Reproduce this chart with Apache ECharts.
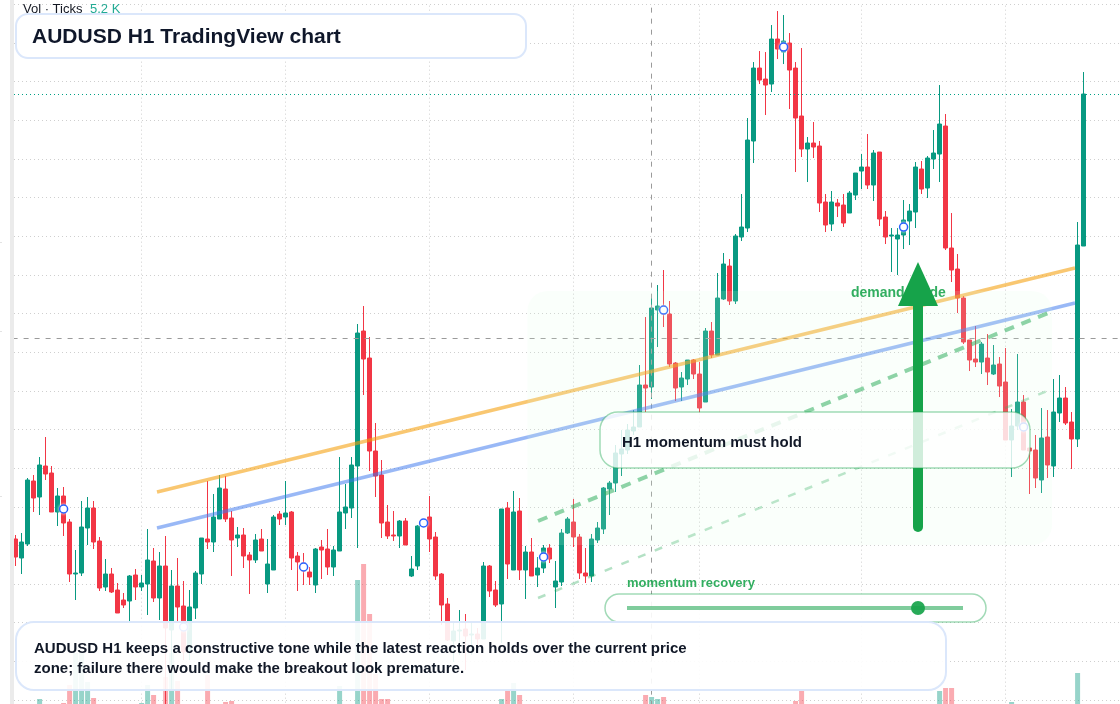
<!DOCTYPE html>
<html><head><meta charset="utf-8">
<style>html,body{margin:0;padding:0;background:#fff;overflow:hidden;width:1120px;height:704px}#w{width:1120px;height:704px;overflow:hidden;position:relative}#c{width:1130px;height:760px}</style>
<script src="https://cdn.jsdelivr.net/npm/echarts@6/dist/echarts.min.js"></script>
</head><body><div id="w"><div id="c"></div></div>
<script>
// AUDUSD H1, prices in pips (6461 = 0.6461)
const opens=[6461,6442,6456,6519,6503,6534,6527,6488,6504,6478,6426,6427,6472,6492,6459,6413,6426,6410,6400,6399,6425,6413,6416,6439,6402,6434,6370,6414,6394,6348,6392,6426,6461,6458,6481,6511,6482,6462,6465,6445,6440,6461,6416,6430,6486,6483,6488,6444,6437,6428,6415,6453,6451,6433,6449,6487,6492,6534,6669,6642,6549,6525,6478,6465,6464,6479,6424,6434,6475,6483,6463,6426,6396,6359,6369,6371,6365,6366,6361,6434,6410,6396,6492,6430,6489,6430,6448,6425,6432,6452,6413,6418,6467,6478,6463,6427,6424,6460,6471,6511,6517,6546,6550,6569,6573,6615,6613,6690,6694,6686,6637,6613,6621,6640,6626,6598,6669,6645,6701,6734,6699,6763,6772,6859,6932,6921,6916,6961,6948,6957,6932,6884,6851,6857,6854,6798,6776,6797,6795,6787,6805,6829,6833,6815,6848,6783,6764,6761,6765,6779,6788,6831,6812,6841,6846,6874,6752,6731,6702,6660,6641,6638,6642,6626,6636,6618,6560,6574,6598,6552,6550,6520,6563,6534,6587,6602,6578,6561,6754];
const closes=[6443,6458,6520,6502,6535,6526,6488,6504,6477,6426,6427,6473,6492,6458,6412,6426,6408,6387,6395,6424,6413,6417,6440,6402,6434,6372,6414,6393,6348,6393,6427,6462,6458,6483,6512,6481,6460,6465,6444,6440,6460,6449,6436,6483,6481,6487,6442,6438,6429,6423,6451,6450,6433,6450,6488,6493,6535,6667,6641,6549,6524,6477,6464,6464,6479,6455,6431,6474,6479,6461,6424,6395,6360,6369,6370,6364,6366,6361,6434,6409,6395,6491,6436,6488,6430,6448,6424,6432,6452,6441,6419,6467,6481,6463,6427,6424,6461,6472,6512,6517,6547,6551,6570,6573,6615,6612,6692,6694,6686,6636,6612,6622,6640,6626,6592,6669,6645,6702,6736,6699,6764,6773,6860,6932,6920,6915,6961,6951,6959,6930,6882,6851,6857,6853,6797,6775,6798,6794,6777,6807,6827,6833,6815,6847,6781,6763,6765,6765,6780,6789,6833,6811,6842,6847,6876,6752,6730,6702,6658,6640,6638,6656,6628,6635,6614,6560,6574,6598,6550,6549,6522,6562,6535,6588,6602,6577,6561,6755,6906];
const lows=[6434,6426,6454,6488,6485,6520,6488,6474,6464,6418,6400,6424,6455,6451,6409,6409,6407,6387,6392,6378,6400,6409,6385,6398,6380,6294,6310,6379,6340,6340,6381,6416,6451,6448,6481,6478,6424,6453,6432,6406,6437,6449,6407,6430,6475,6475,6430,6409,6415,6415,6407,6421,6425,6424,6449,6471,6482,6452,6605,6529,6503,6462,6461,6459,6452,6455,6423,6430,6474,6448,6420,6375,6359,6338,6345,6330,6345,6350,6361,6403,6393,6357,6421,6430,6420,6401,6424,6413,6427,6437,6392,6414,6466,6453,6421,6417,6418,6457,6466,6485,6508,6524,6546,6565,6573,6588,6601,6653,6673,6633,6599,6599,6615,6621,6587,6598,6642,6645,6700,6695,6696,6759,6768,6837,6916,6885,6908,6941,6936,6891,6828,6843,6818,6842,6788,6768,6769,6783,6773,6787,6800,6811,6811,6799,6774,6756,6728,6725,6751,6755,6772,6806,6802,6831,6818,6750,6718,6687,6656,6629,6633,6626,6615,6625,6603,6560,6523,6570,6550,6506,6512,6507,6522,6523,6578,6575,6531,6553,6754];
const highs=[6465,6467,6522,6525,6543,6563,6534,6512,6513,6481,6450,6499,6503,6499,6463,6441,6432,6417,6407,6425,6431,6425,6471,6452,6448,6464,6430,6442,6419,6410,6429,6462,6519,6506,6525,6524,6489,6473,6472,6448,6466,6471,6461,6485,6489,6519,6489,6448,6447,6433,6452,6460,6471,6454,6543,6516,6543,6676,6694,6663,6577,6540,6495,6489,6480,6482,6444,6475,6480,6504,6468,6427,6402,6377,6390,6386,6379,6372,6438,6435,6419,6491,6498,6509,6502,6454,6462,6443,6455,6456,6439,6471,6483,6501,6466,6452,6466,6478,6513,6519,6555,6570,6576,6590,6635,6683,6706,6715,6730,6699,6638,6628,6640,6641,6638,6672,6678,6727,6747,6741,6766,6806,6882,6938,6949,6948,6975,6989,6985,6967,6938,6952,6863,6878,6859,6806,6809,6801,6806,6809,6827,6846,6866,6850,6848,6789,6772,6772,6800,6796,6838,6839,6844,6870,6915,6886,6787,6746,6704,6660,6674,6658,6666,6655,6643,6652,6591,6646,6605,6552,6565,6592,6590,6621,6625,6613,6588,6778,6928];
// tick volume in thousands; bars too small to be seen in the visible pane are left empty
const volumeByBar={4:6.15,8:5.55,9:8.25,10:13.05,11:13.05,12:8.7,13:6.3,21:5.55,22:8.25,23:6.75,25:9.45,26:13.05,27:8.85,32:9.75,35:5.7,36:5.85,54:8.1,57:24,58:26.4,59:18.9,60:9.9,61:6.15,62:6.15,81:6.15,82:7.5,83:8.55,84:6.75,105:6.75,106:6.45,107:6.15,108:6.45,130:5.85,131:7.35,154:7.35,155:7.8,156:7.8,166:5.7,177:10.05,178:5.2};
const sessionBars=[21,45,69,93,114,141,165];
const markerBars=[8,28,48,68,88,108,128,148,168];
const markerPrices=[6491,6373,6433,6477,6443,6690,6953,6773,6573];
const orangeTrend=[[23.57,6508],[176.57,6732]];
const blueTrend=[[23.57,6472],[176.57,6697]];
const greenDash=[[87.07,6479],[172.07,6687]];
const lightDash=[[87.07,6402],[172.73,6611]];
const crossBar=106, crossPrice=6662, lastPrice=6905.5;
const arrowStem=[[150.4,6473],[150.4,6700]];
const arrowTip=[[150.4,6716]];

const GREEN='#089981', RED='#f23645', FONT='"Liberation Sans",Arial,sans-serif';
const N=opens.length, SLOTS=185, STEP=6300/163;
const cats=Array.from({length:SLOTS},(_,i)=>String(i));
const candles=opens.map((o,i)=>[o,closes[i],lows[i],highs[i]]);
const volumes=opens.map((o,i)=>{
  const v=volumeByBar[i];
  return v==null?null:{value:v,itemStyle:{color:closes[i]>=o?'rgba(8,153,129,0.42)':'rgba(242,54,69,0.42)'}};
});
const L=12.6,W=6*SLOTS;
const overlayLine=(data,color,width,type,opacity,z,extra)=>Object.assign({type:'line',xAxisIndex:1,yAxisIndex:0,data,symbol:'none',silent:true,z,
  lineStyle:{color,width,type,opacity,cap:'butt'}},extra||{});
const box=(x,y,w,h,r,fill,stroke,lw,z)=>({type:'rect',silent:true,z,shape:{x,y,width:w,height:h,r},style:{fill,stroke,lineWidth:lw}});
const txt=(x,y,text,font,fill,z,opacity)=>({type:'text',silent:true,z,x,y,style:{text,font,fill,opacity:opacity==null?1:opacity,verticalAlign:'middle',align:'left'}});
const boxBlue='#dbe7fb', boxGreen='rgba(22,163,74,0.4)';
const tinyTick=y=>({type:'rect',silent:true,z:6,shape:{x:0,y,width:2,height:1},style:{fill:'#e3e3e3'}});

const option={
  animation:false,
  backgroundColor:'#ffffff',
  title:{text:'AUDUSD H1 TradingView chart',left:32,top:25,z:20,itemGap:0,padding:0,
    textStyle:{fontFamily:FONT,fontSize:21,fontWeight:'bold',color:'#0f172a',lineHeight:24}},
  grid:[{left:L,width:W,top:4.33,height:734.32},{left:L,width:W,top:540,height:200}],
  xAxis:[
    {type:'category',gridIndex:0,data:cats,boundaryGap:true,axisLine:{show:false},axisTick:{show:false},axisLabel:{show:false},splitLine:{show:false}},
    {type:'value',gridIndex:0,min:-0.5,max:SLOTS-0.5,show:false,splitLine:{show:false}},
    {type:'category',gridIndex:1,data:cats,boundaryGap:true,axisLine:{show:false},axisTick:{show:false},axisLabel:{show:false},splitLine:{show:false}}
  ],
  yAxis:[
    {type:'value',gridIndex:0,min:162*STEP,max:181*STEP,interval:STEP,axisLine:{show:false},axisTick:{show:false},axisLabel:{show:false},
      splitLine:{show:true,lineStyle:{color:'#cfcfcf',width:1,type:[1,3],dashOffset:2.6}}},
    {type:'value',gridIndex:1,min:0,max:30,axisLine:{show:false},axisTick:{show:false},axisLabel:{show:false},splitLine:{show:false}}
  ],
  series:[
    {type:'line',xAxisIndex:1,yAxisIndex:0,data:[],silent:true,z:1,symbol:'none',
      markLine:{silent:true,symbol:'none',animation:false,label:{show:false},z:1,
        lineStyle:{color:'#cfcfcf',width:1,type:[1,3]},data:sessionBars.map(b=>({xAxis:b}))}},
    {type:'bar',xAxisIndex:2,yAxisIndex:1,data:volumes,barWidth:5,silent:true,z:2},
    {type:'candlestick',xAxisIndex:0,yAxisIndex:0,data:candles,barWidth:5,silent:true,z:2,
      itemStyle:{color:GREEN,color0:RED,borderColor:GREEN,borderColor0:RED,borderWidth:1}},
    {type:'line',xAxisIndex:1,yAxisIndex:0,data:[],silent:true,z:3,symbol:'none',
      markLine:{silent:true,symbol:'none',animation:false,label:{show:false},z:3,data:[
        {xAxis:crossBar,lineStyle:{color:'#9a9a9a',width:1,type:[5,6]}},
        {yAxis:crossPrice,lineStyle:{color:'#9a9a9a',width:1,type:[5,6]}},
        {yAxis:lastPrice,lineStyle:{color:'#00a085',width:1,type:[1,3],dashOffset:2.6}}
      ]}},
    overlayLine(orangeTrend,'#f59e0b',3.5,'solid',0.58,3),
    overlayLine(blueTrend,'#3b76ee',3.5,'solid',0.52,3),
    overlayLine(greenDash,'#16a34a',4,[10,8],0.55,3),
    overlayLine(lightDash,'#16a34a',2.5,[8,10],0.32,3),
    {type:'scatter',xAxisIndex:1,yAxisIndex:0,data:markerBars.map((b,i)=>[b,markerPrices[i]]),symbol:'circle',symbolSize:8,silent:true,z:3,
      itemStyle:{color:'#ffffff',opacity:1,borderColor:'#2962ff',borderWidth:1.5,shadowColor:'rgba(255,255,255,0.9)',shadowBlur:3}},
    overlayLine(arrowStem,'#16a34a',10,'solid',1,6,{lineStyle:{color:'#16a34a',width:10,cap:'round'}}),
    {type:'scatter',xAxisIndex:1,yAxisIndex:0,data:arrowTip,symbol:'triangle',symbolSize:[40,44],silent:true,z:6,itemStyle:{color:'#16a34a',opacity:1}}
  ],
  graphic:{elements:[
    {type:'rect',silent:true,z:5,shape:{x:10,y:0,width:4,height:704},style:{fill:'#ebebeb'}},
    {type:'rect',silent:true,z:5,shape:{x:0,y:0,width:10,height:704},style:{fill:'#ffffff'}},
    tinyTick(242),tinyTick(331),tinyTick(496),
    box(527.5,291,524.5,254,20,'rgba(220,252,231,0.15)',null,0,4),
    txt(851,293,'demand guide','bold 14px '+FONT,'#16a34a',5,0.88),
    box(600,412,430,56,18,'rgba(255,255,255,0.8)',boxGreen,1.5,7),
    txt(622,442.5,'H1 momentum must hold','bold 15px '+FONT,'#111827',8),
    txt(627,583,'momentum recovery','bold 13px '+FONT,'#16a34a',8,0.88),
    box(605,594,381,28,14,'rgba(255,255,255,0.9)',boxGreen,1.5,8),
    {type:'rect',silent:true,z:8,shape:{x:627,y:606,width:336,height:4},style:{fill:'rgba(22,163,74,0.55)'}},
    {type:'circle',silent:true,z:8,shape:{cx:918,cy:608,r:7},style:{fill:'#16a34a',opacity:0.92}},
    box(16,622,930,68,18,'rgba(255,255,255,0.9)',boxBlue,2,9),
    txt(34,648.5,'AUDUSD H1 keeps a constructive tone while the latest reaction holds over the current price','bold 15px '+FONT,'#111827',10),
    txt(34,668.5,'zone; failure there would make the breakout look premature.','bold 15px '+FONT,'#111827',10),
    txt(23,9.5,'Vol · Ticks','13px '+FONT,'#131722',3),
    txt(90,9.5,'5.2 K','13px '+FONT,'#22ab94',3),
    box(16,14,510,44,12,'#ffffff',boxBlue,2,9)
  ]}
};
const chart=echarts.init(document.getElementById('c'),null,{renderer:'canvas',width:1130,height:760});
chart.setOption(option);
</script></body></html>
